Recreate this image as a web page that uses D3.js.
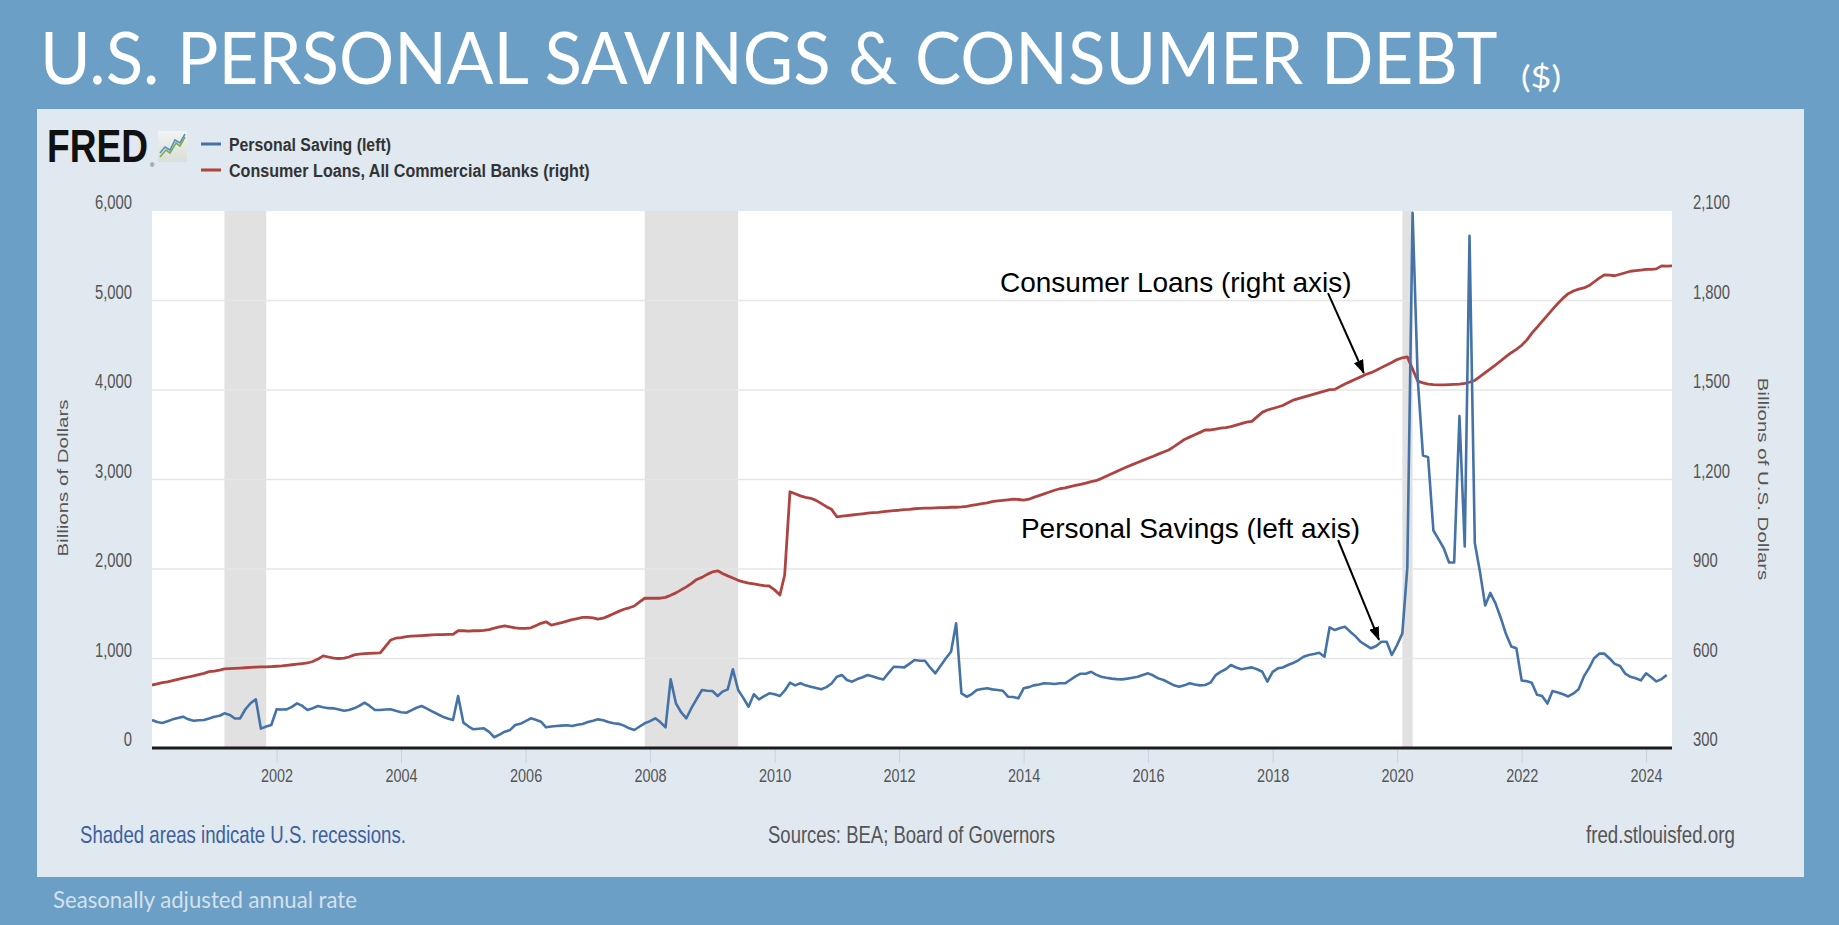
<!DOCTYPE html>
<html>
<head>
<meta charset="utf-8">
<script src="https://cdn.jsdelivr.net/npm/d3@7"></script>
<style>
  html, body { margin: 0; padding: 0; background: #6C9FC5; }
  svg { display: block; }
</style>
</head>
<body>
<svg id="chart" width="1839" height="925"></svg>
<script>
// ---- Data (monthly, starting January 2000) ----
// Personal Saving, billions of dollars, SAAR (left axis), Jan 2000 – May 2024
const personalSaving = [
  313, 290, 280, 300, 320, 335, 350, 320, 305, 310, 313, 330,          // 2000
  350, 360, 387, 370, 330, 330, 430, 500, 544, 216, 240, 257,          // 2001
  432, 430, 432, 460, 499, 470, 424, 445, 469, 455, 445, 443,          // 2002
  430, 417, 425, 443, 470, 506, 470, 424, 425, 430, 432, 415,          // 2003
  400, 394, 420, 450, 469, 440, 410, 380, 350, 330, 313, 581,          // 2004
  283, 240, 209, 215, 220, 180, 120, 150, 182, 200, 257, 270,          // 2005
  300, 332, 315, 294, 231, 240, 246, 250, 255, 246, 260, 268,          // 2006
  290, 305, 320, 310, 290, 276, 270, 250, 220, 201, 240, 276,          // 2007
  300, 332, 290, 231, 767, 499, 400, 332, 450, 550, 648, 640,          // 2008
  637, 581, 630, 655, 879, 648, 560, 461, 600, 544, 580, 611,          // 2009
  600, 581, 640, 730, 700, 723, 700, 685, 670, 656, 680, 720,          // 2010
  796, 815, 760, 741, 770, 790, 815, 800, 780, 765, 840, 908,          // 2011
  905, 901, 940, 983, 975, 975, 900, 834, 920, 1000, 1076, 1393,       // 2012
  611, 573, 600, 648, 660, 667, 655, 648, 640, 573, 570, 555,          // 2013
  667, 680, 700, 710, 723, 720, 715, 723, 723, 760, 800, 830,          // 2014
  830, 852, 820, 796, 785, 775, 770, 767, 775, 785, 796, 815,          // 2015
  834, 810, 778, 760, 730, 700, 685, 700, 723, 710, 700, 704,          // 2016
  730, 815, 850, 880, 927, 900, 879, 890, 901, 880, 852, 741,          // 2017
  850, 890, 900, 927, 950, 980, 1020, 1040, 1050, 1065, 1020, 1348,    // 2018
  1318, 1340, 1355, 1300, 1250, 1187, 1150, 1114, 1140, 1187, 1187, 1039, // 2019
  1150, 1281, 2012, 5980, 4126, 3268, 3250, 2430, 2331, 2232, 2072, 2072, // 2020
  3708, 2252, 5722, 2291, 1973, 1593, 1733, 1613, 1450, 1273, 1135, 1115, // 2021
  755, 745, 730, 596, 580, 496, 636, 620, 600, 576, 610, 656,          // 2022
  800, 895, 1000, 1054, 1054, 1000, 940, 916, 830, 795, 780, 755,      // 2023
  835, 790, 744, 770, 815                                              // 2024
];

// Consumer Loans, All Commercial Banks, billions of U.S. dollars (right axis), Jan 2000 – Jun 2024
const consumerLoans = [
  511, 515, 519, 522, 526, 530, 534, 538, 542, 546, 550, 556,          // 2000
  558, 561, 565, 566, 567, 568, 569, 570, 571, 572, 572, 573,          // 2001
  574, 575, 577, 579, 581, 583, 585, 590, 598, 609, 605, 601,          // 2002
  600, 601, 605, 612, 615, 616, 617, 618, 619, 640, 662, 668,          // 2003
  670, 673, 675, 676, 677, 678, 679, 680, 680, 681, 681, 693,          // 2004
  693, 692, 693, 693, 694, 697, 702, 706, 709, 706, 703, 701,          // 2005
  701, 703, 710, 718, 723, 712, 716, 720, 725, 730, 734, 738,          // 2006
  738, 736, 732, 735, 742, 750, 758, 765, 770, 776, 790, 802,          // 2007
  802, 802, 802, 805, 812, 820, 830, 840, 852, 865, 872, 882,          // 2008
  890, 894, 885, 877, 870, 862, 857, 853, 850, 847, 844, 843,          // 2009
  830, 813, 880, 1159, 1152, 1145, 1140, 1137, 1130, 1120, 1109, 1100, // 2010
  1075, 1077, 1079, 1081, 1083, 1085, 1087, 1089, 1090, 1092, 1094, 1096, // 2011
  1097, 1099, 1100, 1102, 1103, 1104, 1104, 1105, 1106, 1106, 1107, 1107, // 2012
  1108, 1110, 1113, 1116, 1119, 1122, 1126, 1128, 1130, 1132, 1134, 1133, // 2013
  1131, 1134, 1140, 1146, 1152, 1158, 1164, 1169, 1172, 1176, 1180, 1184, // 2014
  1188, 1193, 1196, 1203, 1211, 1219, 1227, 1235, 1243, 1250, 1257, 1264, // 2015
  1271, 1278, 1285, 1292, 1299, 1310, 1322, 1334, 1342, 1350, 1358, 1366, // 2016
  1366, 1369, 1372, 1374, 1377, 1382, 1387, 1392, 1395, 1410, 1425, 1433, // 2017
  1438, 1443, 1448, 1457, 1466, 1471, 1476, 1481, 1486, 1491, 1496, 1501, // 2018
  1502, 1512, 1520, 1528, 1536, 1544, 1552, 1558, 1566, 1575, 1584, 1592, // 2019
  1602, 1608, 1611, 1570, 1530, 1524, 1520, 1518, 1517, 1517, 1518, 1519, // 2020
  1520, 1522, 1526, 1532, 1545, 1558, 1571, 1584, 1598, 1612, 1625, 1636, // 2021
  1650, 1668, 1690, 1710, 1730, 1750, 1770, 1790, 1808, 1823, 1832, 1838, // 2022
  1842, 1850, 1862, 1875, 1886, 1885, 1883, 1888, 1893, 1898, 1900, 1902, // 2023
  1904, 1904, 1906, 1916, 1915, 1916                                    // 2024
];

// U.S. recessions (NBER), shaded
const recessions = [
  ["2001-03-01", "2001-11-01"],
  ["2007-12-01", "2009-06-01"],
  ["2020-02-01", "2020-04-01"]
];

// Axis ticks
const leftTicks = [0, 1000, 2000, 3000, 4000, 5000, 6000];
const rightTicks = [300, 600, 900, 1200, 1500, 1800, 2100];
const yearTicks = [2002, 2004, 2006, 2008, 2010, 2012, 2014, 2016, 2018, 2020, 2022, 2024];

// Callouts: label anchor and arrow from tail to tip, in data units
const callouts = [
  { text: "Consumer Loans (right axis)", axis: "right",
    label: ["2013-08-15", 1829], tail: ["2018-11-22", 1825], tip: ["2019-06-20", 1557] },
  { text: "Personal Savings (left axis)", axis: "left",
    label: ["2013-12-16", 2346], tail: ["2019-01-20", 2324], tip: ["2019-09-17", 1207] }
];

// ---- Layout ----
const svg = d3.select("#chart");
const defs = svg.append("defs");
const plot = { left: 152, right: 1672, top: 211, bottom: 748 };
const fredFont = "'Liberation Sans', Arial, Helvetica, sans-serif";
const slideFont = "Lato, 'Open Sans', sans-serif";
const parseDay = d3.timeParse("%Y-%m-%d");
const monthDate = i => new Date(2000, i, 1);

// Place a text at (x, y) and squeeze it horizontally to the given width
function fitText(sel, x, y, width) {
  sel.attr("x", 0).attr("y", 0);
  const natural = sel.node().getComputedTextLength();
  sel.attr("transform", `translate(${x},${y}) scale(${width / natural},1)`);
}

const x = d3.scaleTime()
  .domain([new Date(2000, 0, 1), new Date(2024, 5, 1)])
  .range([plot.left, plot.right]);
const yLeft = d3.scaleLinear().domain([0, 6000]).range([plot.bottom, plot.top]);
const yRight = d3.scaleLinear().domain([300, 2100]).range([plot.bottom, plot.top]);

// Slide background and chart panel
svg.append("rect").attr("width", 1839).attr("height", 925).attr("fill", "#6C9FC5");
svg.append("rect").attr("x", 37).attr("y", 109).attr("width", 1767).attr("height", 768)
  .attr("fill", "#E0E8F0");

// Slide title
svg.append("text")
  .attr("font-family", slideFont).attr("font-size", 72).attr("fill", "#FFFFFF")
  .text("U.S. PERSONAL SAVINGS & CONSUMER DEBT")
  .call(fitText, 40, 84, 1458);
svg.append("text")
  .attr("font-family", slideFont).attr("font-size", 30).attr("fill", "#FFFFFF")
  .text("($)")
  .call(fitText, 1521, 88, 40);

// Footnote under panel
svg.append("text")
  .attr("font-family", slideFont).attr("font-size", 23).attr("fill", "#D5E1EC")
  .text("Seasonally adjusted annual rate")
  .call(fitText, 53, 908, 304);

// Plot area
svg.append("rect")
  .attr("x", plot.left).attr("y", plot.top)
  .attr("width", plot.right - plot.left).attr("height", plot.bottom - plot.top)
  .attr("fill", "#FFFFFF");

defs.append("clipPath").attr("id", "plotClip")
  .append("rect")
  .attr("x", plot.left).attr("y", plot.top - 1)
  .attr("width", plot.right - plot.left).attr("height", plot.bottom - plot.top + 1);

// Recession shading
svg.append("g").selectAll("rect").data(recessions).join("rect")
  .attr("x", d => x(parseDay(d[0])))
  .attr("width", d => x(parseDay(d[1])) - x(parseDay(d[0])))
  .attr("y", plot.top).attr("height", plot.bottom - plot.top)
  .attr("fill", "#E1E1E1");

// Horizontal gridlines
svg.append("g").selectAll("line")
  .data(leftTicks.filter(v => v > 0 && v < 6000)).join("line")
  .attr("x1", plot.left).attr("x2", plot.right)
  .attr("y1", d => yLeft(d)).attr("y2", d => yLeft(d))
  .attr("stroke", "#E6E6E6").attr("stroke-width", 1.5);

// Series lines
const lines = svg.append("g").attr("clip-path", "url(#plotClip)");
const savingLine = d3.line().x((d, i) => x(monthDate(i))).y(d => yLeft(d));
const loansLine = d3.line().x((d, i) => x(monthDate(i))).y(d => yRight(d));

lines.append("path").datum(consumerLoans)
  .attr("d", loansLine)
  .attr("fill", "none").attr("stroke", "#AE4340").attr("stroke-width", 2.8)
  .attr("stroke-linejoin", "round");
lines.append("path").datum(personalSaving)
  .attr("d", savingLine)
  .attr("fill", "none").attr("stroke", "#4572A7").attr("stroke-width", 2.6)
  .attr("stroke-linejoin", "round");

// Left axis
const gLeft = svg.append("g").attr("transform", `translate(${plot.left},0)`)
  .call(d3.axisLeft(yLeft).tickValues(leftTicks).tickSize(0).tickFormat(d3.format(",")));
gLeft.select(".domain").remove();
gLeft.selectAll("text")
  .attr("x", 0).attr("dy", "0.35em")
  .attr("transform", "translate(-20,-9) scale(0.76,1)")
  .attr("font-family", fredFont).attr("font-size", 19.5).attr("fill", "#555");

// Right axis
const gRight = svg.append("g").attr("transform", `translate(${plot.right},0)`)
  .call(d3.axisRight(yRight).tickValues(rightTicks).tickSize(0).tickFormat(d3.format(",")));
gRight.select(".domain").remove();
gRight.selectAll("text")
  .attr("x", 0).attr("dy", "0.35em")
  .attr("transform", "translate(21,-9) scale(0.76,1)")
  .attr("font-family", fredFont).attr("font-size", 19.5).attr("fill", "#555");

// Bottom (time) axis
const gBottom = svg.append("g").attr("transform", `translate(0,${plot.bottom})`)
  .call(d3.axisBottom(x)
    .tickValues(yearTicks.map(yr => new Date(yr, 0, 1)))
    .tickSize(15)
    .tickFormat(d3.timeFormat("%Y")));
gBottom.select(".domain").remove();
gBottom.selectAll(".tick line").attr("stroke", "#C6D3E0").attr("stroke-width", 1);
gBottom.selectAll("text")
  .attr("y", 0).attr("dy", "0.35em")
  .attr("transform", "translate(0,28) scale(0.78,1)")
  .attr("font-family", fredFont).attr("font-size", 18.5).attr("fill", "#555");

// Baseline of the plot
svg.append("line")
  .attr("x1", plot.left).attr("x2", plot.right)
  .attr("y1", plot.bottom).attr("y2", plot.bottom)
  .attr("stroke", "#1C1C1C").attr("stroke-width", 3);

// Axis titles
svg.append("text")
  .attr("transform", "translate(63,478) scale(0.75,1) rotate(-90)")
  .attr("text-anchor", "middle").attr("dominant-baseline", "central")
  .attr("font-family", fredFont).attr("font-size", 20.5).attr("fill", "#555")
  .text("Billions of Dollars");
svg.append("text")
  .attr("transform", "translate(1763,479) scale(0.75,1) rotate(90)")
  .attr("text-anchor", "middle").attr("dominant-baseline", "central")
  .attr("font-family", fredFont).attr("font-size", 20.5).attr("fill", "#555")
  .text("Billions of U.S. Dollars");

// FRED logo
svg.append("text")
  .attr("font-family", fredFont).attr("font-weight", "bold").attr("font-size", 46)
  .attr("fill", "#111")
  .text("FRED")
  .call(fitText, 47, 162, 101);
svg.append("text")
  .attr("x", 150).attr("y", 167)
  .attr("font-family", fredFont).attr("font-size", 6).attr("fill", "#333")
  .text("®");
const iconGrad = defs.append("linearGradient").attr("id", "iconBg")
  .attr("x1", 0).attr("y1", 0).attr("x2", 0).attr("y2", 1);
iconGrad.append("stop").attr("offset", 0).attr("stop-color", "#F2F4F1");
iconGrad.append("stop").attr("offset", 1).attr("stop-color", "#D9DED8");
const icon = svg.append("g").attr("transform", "translate(158,131)");
icon.append("rect").attr("width", 29).attr("height", 31).attr("fill", "url(#iconBg)");
icon.append("polyline").attr("points", "2,26 8,19 12,22 18,12 22,15 27,6")
  .attr("fill", "none").attr("stroke", "#7FAE4A").attr("stroke-width", 1.6);
icon.append("polyline").attr("points", "2,22 7,16 12,19 17,9 22,12 27,3")
  .attr("fill", "none").attr("stroke", "#5B8FC9").attr("stroke-width", 1.6);

// Legend
const legendItems = [
  { label: "Personal Saving (left)", color: "#4572A7", y: 144, width: 162 },
  { label: "Consumer Loans, All Commercial Banks (right)", color: "#AE4340", y: 170, width: 361 }
];
const legend = svg.append("g");
legend.selectAll("line").data(legendItems).join("line")
  .attr("x1", 201).attr("x2", 221)
  .attr("y1", d => d.y).attr("y2", d => d.y)
  .attr("stroke", d => d.color).attr("stroke-width", 3);
legend.selectAll("text").data(legendItems).join("text")
  .attr("font-family", fredFont).attr("font-weight", "bold").attr("font-size", 18.5)
  .attr("fill", "#333")
  .text(d => d.label)
  .each(function (d) { d3.select(this).call(fitText, 229, d.y + 6.5, d.width); });

// Footer notes inside panel
const notes = [
  { text: "Shaded areas indicate U.S. recessions.", x: 80, width: 326, color: "#3D5F9E" },
  { text: "Sources: BEA; Board of Governors", x: 768, width: 287, color: "#555" },
  { text: "fred.stlouisfed.org", x: 1586, width: 149, color: "#555" }
];
svg.append("g").selectAll("text").data(notes).join("text")
  .attr("font-family", fredFont).attr("font-size", 24).attr("fill", d => d.color)
  .text(d => d.text)
  .each(function (d) { d3.select(this).call(fitText, d.x, 843, d.width); });

// Callouts with arrows
defs.append("marker")
  .attr("id", "arrowHead")
  .attr("viewBox", "0 0 14 10").attr("refX", 13).attr("refY", 5)
  .attr("markerWidth", 14).attr("markerHeight", 10)
  .attr("markerUnits", "userSpaceOnUse").attr("orient", "auto")
  .append("path").attr("d", "M0,0 L14,5 L0,10 Z").attr("fill", "#000");

const yFor = c => (c.axis === "right" ? yRight : yLeft);
const gCallouts = svg.append("g");
gCallouts.selectAll("text").data(callouts).join("text")
  .attr("x", d => x(parseDay(d.label[0])))
  .attr("y", d => yFor(d)(d.label[1]))
  .attr("font-family", fredFont).attr("font-size", 28).attr("fill", "#000")
  .text(d => d.text);
gCallouts.selectAll("line").data(callouts).join("line")
  .attr("x1", d => x(parseDay(d.tail[0]))).attr("y1", d => yFor(d)(d.tail[1]))
  .attr("x2", d => x(parseDay(d.tip[0]))).attr("y2", d => yFor(d)(d.tip[1]))
  .attr("stroke", "#000").attr("stroke-width", 2)
  .attr("marker-end", "url(#arrowHead)");
</script>
</body>
</html>
